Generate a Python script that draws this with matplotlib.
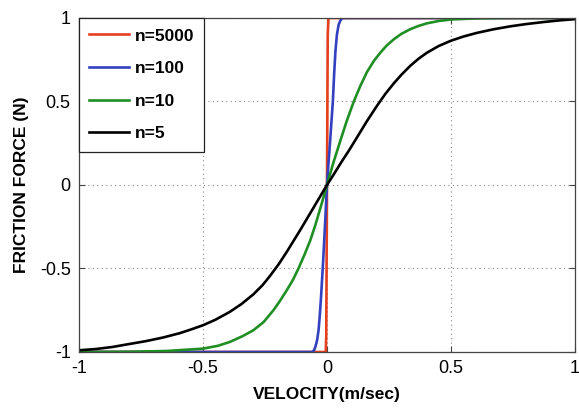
import numpy as np
import matplotlib.pyplot as plt

plt.rcParams['font.family'] = ['Liberation Sans', 'DejaVu Sans']

# friction force vs. velocity for several smoothing factors n
v_5000 = [-1.0, -0.005, -0.003, -0.001, 0.001, 0.003, 0.006, 1.0]
f_5000 = [-1.0, -1.0, -0.9, -0.3, 0.3, 0.9, 1.0, 1.0]

v_100 = [-1.0, -0.06, -0.052, -0.047, -0.04, -0.034, -0.029, -0.024,
         -0.02, -0.016, -0.009, 0.0, 0.006, 0.013, 0.019, 0.024, 0.029,
         0.034, 0.04, 0.047, 0.054, 0.062, 1.0]
f_100 = [-1.0, -1.0, -0.99, -0.97, -0.93, -0.87, -0.78, -0.67,
         -0.57, -0.47, -0.27, 0.0, 0.13, 0.27, 0.4, 0.51, 0.67,
         0.8, 0.9, 0.96, 0.985, 1.0, 1.0]

v_10 = [-1.0, -0.8, -0.646, -0.5, -0.44, -0.392, -0.34, -0.297, -0.255,
        -0.216, -0.19, -0.162, -0.138, -0.115, -0.09, -0.067, -0.047,
        -0.023, 0.0, 0.025, 0.054, 0.08, 0.108, 0.135, 0.161, 0.19, 0.215,
        0.24, 0.269, 0.3, 0.336, 0.37, 0.403, 0.45, 0.5, 0.605, 0.75, 1.0]
f_10 = [-1.0, -0.999, -0.994, -0.98, -0.963, -0.94, -0.905, -0.87, -0.82,
        -0.75, -0.695, -0.63, -0.57, -0.5, -0.415, -0.33, -0.24,
        -0.12, 0.0, 0.13, 0.266, 0.385, 0.5, 0.595, 0.676, 0.745, 0.792,
        0.834, 0.872, 0.905, 0.933, 0.953, 0.968, 0.982, 0.991, 0.998, 1.0, 1.0]

v_5 = [-1.0, -0.93, -0.865, -0.8, -0.73, -0.66, -0.595, -0.55, -0.5,
       -0.45, -0.392, -0.345, -0.297, -0.26, -0.23, -0.195, -0.162, -0.135,
       -0.108, -0.08, -0.05, -0.025, 0.0, 0.03, 0.055, 0.09, 0.121, 0.16,
       0.202, 0.235, 0.269, 0.3, 0.336, 0.37, 0.403, 0.45, 0.5, 0.55, 0.605,
       0.67, 0.739, 0.8, 0.874, 0.94, 1.0]
f_5 = [-0.99, -0.982, -0.97, -0.953, -0.935, -0.913, -0.888, -0.866, -0.84,
       -0.807, -0.76, -0.713, -0.655, -0.6, -0.545, -0.475, -0.4, -0.335,
       -0.27, -0.2, -0.125, -0.062, 0.0, 0.07, 0.13, 0.21, 0.285, 0.38,
       0.475, 0.545, 0.608, 0.66, 0.714, 0.757, 0.792, 0.832, 0.864, 0.889,
       0.911, 0.932, 0.95, 0.963, 0.976, 0.986, 0.993]

series = [(v_5000, f_5000, '#e5401e', 'n=5000'),
          (v_100, f_100, '#3340c0', 'n=100'),
          (v_10, f_10, '#1f8f24', 'n=10'),
          (v_5, f_5, '#000000', 'n=5')]

ticks = [-1, -0.5, 0, 0.5, 1]
tick_labels = ['-1', '-0.5', '0', '0.5', '1']

fig = plt.figure(figsize=(5.79, 4.08), dpi=100)
ax = fig.add_axes([0.1364, 0.1373, 0.8567, 0.8186])

for v, f, c, lab in series:
    ax.plot(v, f, color=c, lw=1.9, label=lab)

ax.set_xlim(-1, 1)
ax.set_ylim(-1, 1)
ax.set_xticks(ticks)
ax.set_xticklabels(tick_labels)
ax.set_yticks(ticks)
ax.set_yticklabels(tick_labels)
ax.tick_params(direction='in', length=4, width=0.8, labelsize=13,
               top=True, right=True, pad=6, color='#444444')
ax.grid(True, linestyle=(0, (1, 3)), color='#888888', lw=0.8)
for s in ax.spines.values():
    s.set_color('#444444')
    s.set_linewidth(0.9)

ax.set_xlabel('VELOCITY(m/sec)', fontsize=12.5, fontweight='bold', labelpad=7)
ax.set_ylabel('FRICTION FORCE (N)', fontsize=12.5, fontweight='bold', labelpad=8)

leg = ax.legend(loc='upper left', bbox_to_anchor=(0, 1), borderaxespad=0,
                fancybox=False, framealpha=1, edgecolor='#222222',
                handlelength=2.3, handletextpad=0.3, labelspacing=1.0,
                borderpad=0.6, prop={'weight': 'bold', 'size': 12.5})
leg.get_frame().set_linewidth(0.9)

fig.savefig('out.png', dpi=100)
